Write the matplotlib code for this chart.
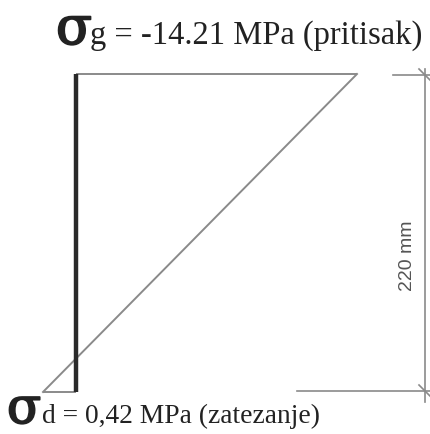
import matplotlib
matplotlib.use('Agg')
import matplotlib.pyplot as plt
import matplotlib.patheffects as pe

# stress distribution over the section height
depth_mm = [0, 220]
stress_mpa = [-14.21, 0.42]
labels = ["(pritisak)", "(zatezanje)"]
dim_label = "220 mm"

# drawing setup (pixel-like canvas)
W, H = 430, 434
x0 = 76                 # zero-stress line
y_top, y_bot = 74, 392  # section top / bottom
sc_comp = 281 / 14.21   # px per MPa, compression side
sc_tens = 33 / 0.42     # px per MPa, tension side (not to scale in the original)


def ypos(d):
    return y_top + (y_bot - y_top) * d / depth_mm[-1]


def xpos(s):
    return x0 - s * (sc_comp if s < 0 else sc_tens)


fig = plt.figure(figsize=(W / 100, H / 100), dpi=100)
ax = fig.add_axes([0, 0, 1, 1])
ax.set_xlim(0, W)
ax.set_ylim(H, 0)
ax.axis("off")

gray = "#8a8a8a"
ys = [ypos(d) for d in depth_mm]
xs = [xpos(s) for s in stress_mpa]

# stress diagram outline
ax.plot([x0, xs[0]], [ys[0], ys[0]], color=gray, lw=1.4, solid_capstyle="butt")
ax.plot(xs, ys, color=gray, lw=1.4)
ax.plot([xs[1], x0], [ys[1], ys[1]], color=gray, lw=1.4, solid_capstyle="butt")
# section axis
ax.plot([x0, x0], [ys[0], ys[1]], color="#2a2a2a", lw=3.2, solid_capstyle="butt")

# dimension line
xd = 425
ax.plot([393, W], [ys[0] + 1, ys[0] + 1], color=gray, lw=1.2)
ax.plot([297, W], [ys[1] - 1, ys[1] - 1], color=gray, lw=1.2)
ax.plot([xd, xd], [ys[0] - 5, ys[1] + 10], color=gray, lw=1.2)
for yy in (ys[0] + 1, ys[1] - 1):
    ax.plot([xd - 6, xd + 6], [yy - 6, yy + 6], color=gray, lw=1.2)
ax.text(408, 256, dim_label, rotation=90, ha="center", va="center",
        fontsize=14, color="#555555", family="Liberation Sans")

# labels
serif = "Liberation Serif"
tc = "#222222"
heavy = [pe.withStroke(linewidth=1.3, foreground=tc)]
ax.text(56, 44, "σ", fontsize=38, family="DejaVu Serif", color=tc, va="baseline",
        path_effects=heavy)
ax.text(90, 44, "g = %.2f MPa %s" % (stress_mpa[0], labels[0]), fontsize=23.5,
        family=serif, color=tc, va="baseline")
ax.text(7, 423, "σ", fontsize=36, family="DejaVu Serif", color=tc, va="baseline",
        path_effects=heavy)
ax.text(42, 423, "d = %s MPa %s" % (("%.2f" % stress_mpa[1]).replace(".", ","), labels[1]),
        fontsize=19.8, family=serif, color=tc, va="baseline")

fig.savefig("out.png", dpi=100)
